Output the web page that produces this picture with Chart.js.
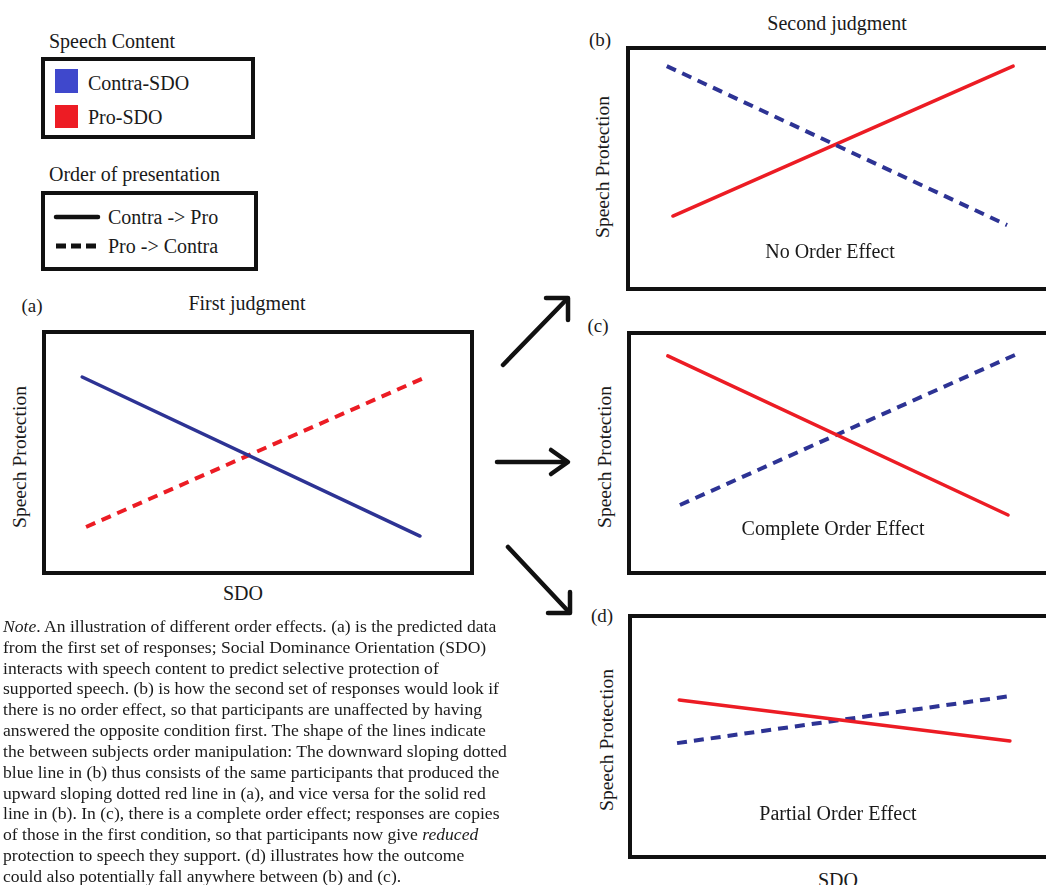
<!DOCTYPE html>
<html>
<head>
<meta charset="utf-8">
<script src="https://cdn.jsdelivr.net/npm/chart.js@4.4.1/dist/chart.umd.min.js"></script>
<style>
  html, body { margin:0; padding:0; width:1046px; height:885px; overflow:hidden; background:#fff; }
  body { position:relative; font-family:"Liberation Serif","Times New Roman",serif; color:#1a1a1a; }
  .t { position:absolute; white-space:nowrap; line-height:1; transform:translate(-50%,-50%); font-size:20px; }
  .tl { position:absolute; white-space:nowrap; line-height:1; transform:translateY(-50%); font-size:20px; }
  .rot { position:absolute; white-space:nowrap; line-height:1; transform:translate(-50%,-50%) rotate(-90deg); font-size:19.6px; }
  .box { position:absolute; box-sizing:border-box; border:4px solid #111; pointer-events:none; }
  canvas { position:absolute; }
  .note { position:absolute; left:3px; top:616px; font-size:17.6px; line-height:20.83px; white-space:nowrap; }
</style>
</head>
<body>
<!-- Legend -->
<div class="tl" style="left:49px;top:41px;">Speech Content</div>
<div class="box" style="left:41px;top:57px;width:214px;height:82px;"></div>
<div style="position:absolute;left:55px;top:69px;width:23px;height:24px;background:#3f48cc;"></div>
<div class="tl" style="left:88px;top:83px;">Contra-SDO</div>
<div style="position:absolute;left:55px;top:105px;width:23px;height:23px;background:#ed1c24;"></div>
<div class="tl" style="left:88px;top:117px;">Pro-SDO</div>

<div class="tl" style="left:49px;top:174px;">Order of presentation</div>
<div class="box" style="left:41px;top:191px;width:217px;height:80px;"></div>
<svg style="position:absolute;left:0;top:0;" width="120" height="280">
  <line x1="56" y1="217" x2="98" y2="217" stroke="#111" stroke-width="4.5" stroke-linecap="round"/>
  <line x1="56" y1="246" x2="98" y2="246" stroke="#111" stroke-width="5" stroke-dasharray="10,5"/>
</svg>
<div class="tl" style="left:108px;top:217px;">Contra -&gt; Pro</div>
<div class="tl" style="left:108px;top:246px;">Pro -&gt; Contra</div>

<!-- Panel (a) -->
<div class="t" style="left:32px;top:305px;font-size:19px;">(a)</div>
<div class="t" style="left:247px;top:303px;">First judgment</div>
<div class="rot" style="left:20px;top:457px;">Speech Protection</div>
<div class="t" style="left:243px;top:593px;">SDO</div>
<canvas id="ca" width="432" height="245" style="left:42px;top:330px;"></canvas>
<div class="box" style="left:42px;top:330px;width:432px;height:245px;"></div>

<!-- Panel (b) -->
<div class="t" style="left:600px;top:39px;font-size:19px;">(b)</div>
<div class="t" style="left:837px;top:23px;">Second judgment</div>
<div class="rot" style="left:603px;top:167px;">Speech Protection</div>
<canvas id="cb" width="434" height="245" style="left:626px;top:46px;"></canvas>
<div class="box" style="left:626px;top:46px;width:434px;height:245px;"></div>
<div class="t" style="left:830px;top:251px;">No Order Effect</div>

<!-- Panel (c) -->
<div class="t" style="left:598px;top:325px;font-size:19px;">(c)</div>
<div class="rot" style="left:605px;top:457px;">Speech Protection</div>
<canvas id="cc" width="434" height="244" style="left:627px;top:331px;"></canvas>
<div class="box" style="left:627px;top:331px;width:434px;height:244px;"></div>
<div class="t" style="left:833px;top:528px;">Complete Order Effect</div>

<!-- Panel (d) -->
<div class="t" style="left:602px;top:615px;font-size:19px;">(d)</div>
<div class="rot" style="left:607px;top:740px;">Speech Protection</div>
<canvas id="cd" width="434" height="245" style="left:628px;top:614px;"></canvas>
<div class="box" style="left:628px;top:614px;width:434px;height:245px;"></div>
<div class="t" style="left:838px;top:813px;">Partial Order Effect</div>
<div class="t" style="left:838px;top:880px;">SDO</div>

<!-- Arrows -->
<svg style="position:absolute;left:0;top:0;" width="1046" height="885">
  <g stroke="#111" stroke-width="4.5" stroke-linecap="round" stroke-linejoin="round" fill="none">
    <line x1="503" y1="365" x2="567" y2="299"/>
    <polyline points="546,298 568,298 568,320"/>
    <line x1="497" y1="462" x2="567" y2="462"/>
    <polyline points="551,450 568,462 551,474"/>
    <line x1="508" y1="547" x2="568" y2="611"/>
    <polyline points="570,592 570,613 548,613"/>
  </g>
</svg>

<!-- Note -->
<div class="note"><i>Note</i>. An illustration of different order effects. (a) is the predicted data<br>from the first set of responses; Social Dominance Orientation (SDO)<br>interacts with speech content to predict selective protection of<br>supported speech. (b) is how the second set of responses would look if<br>there is no order effect, so that participants are unaffected by having<br>answered the opposite condition first. The shape of the lines indicate<br>the between subjects order manipulation: The downward sloping dotted<br>blue line in (b) thus consists of the same participants that produced the<br>upward sloping dotted red line in (a), and vice versa for the solid red<br>line in (b). In (c), there is a complete order effect; responses are copies<br>of those in the first condition, so that participants now give <i>reduced</i><br>protection to speech they support. (d) illustrates how the outcome<br>could also potentially fall anywhere between (b) and (c).</div>

<script>
// ---- Data (SDO on x, Speech Protection on y; relative 0-10 units) ----
// Panel (a) First judgment
const aContraX = [0.93, 8.75];
const aContraY = [8.08, 1.59];
const aProX    = [1.02, 8.94];
const aProY    = [1.96, 8.12];
// Panel (b) No Order Effect
const bContraX = [0.94, 8.78];
const bContraY = [9.18, 2.69];
const bProX    = [1.08, 8.92];
const bProY    = [3.06, 9.18];
// Panel (c) Complete Order Effect
const cProX    = [0.94, 8.78];
const cProY    = [8.98, 2.46];
const cContraX = [1.22, 8.94];
const cContraY = [2.87, 9.02];
// Panel (d) Partial Order Effect
const dProX    = [1.18, 8.80];
const dProY    = [6.49, 4.82];
const dContraX = [1.13, 8.80];
const dContraY = [4.73, 6.65];

const BLUE = '#2d3394';
const RED = '#ec1c24';

function pts(xs, ys) { return xs.map((x, i) => ({ x: x, y: ys[i] })); }

function makeChart(id, datasets) {
  new Chart(document.getElementById(id), {
    type: 'line',
    data: { datasets: datasets },
    options: {
      responsive: false,
      animation: false,
      layout: { padding: 0 },
      plugins: { legend: { display: false }, tooltip: { enabled: false } },
      elements: { point: { radius: 0 }, line: { tension: 0 } },
      scales: {
        x: { type: 'linear', min: 0, max: 10, display: false },
        y: { type: 'linear', min: 0, max: 10, display: false }
      }
    }
  });
}

function solid(label, color, xs, ys) {
  return { label: label, data: pts(xs, ys), borderColor: color, borderWidth: 3.5, borderCapStyle: 'round', fill: false };
}
function dashed(label, color, xs, ys) {
  return { label: label, data: pts(xs, ys), borderColor: color, borderWidth: 4, borderDash: [10, 7], fill: false };
}

makeChart('ca', [
  solid('Contra-SDO (Contra -> Pro)', BLUE, aContraX, aContraY),
  dashed('Pro-SDO (Pro -> Contra)', RED, aProX, aProY)
]);
makeChart('cb', [
  dashed('Contra-SDO (Pro -> Contra)', BLUE, bContraX, bContraY),
  solid('Pro-SDO (Contra -> Pro)', RED, bProX, bProY)
]);
makeChart('cc', [
  solid('Pro-SDO (Contra -> Pro)', RED, cProX, cProY),
  dashed('Contra-SDO (Pro -> Contra)', BLUE, cContraX, cContraY)
]);
makeChart('cd', [
  solid('Pro-SDO (Contra -> Pro)', RED, dProX, dProY),
  dashed('Contra-SDO (Pro -> Contra)', BLUE, dContraX, dContraY)
]);
</script>
</body>
</html>
